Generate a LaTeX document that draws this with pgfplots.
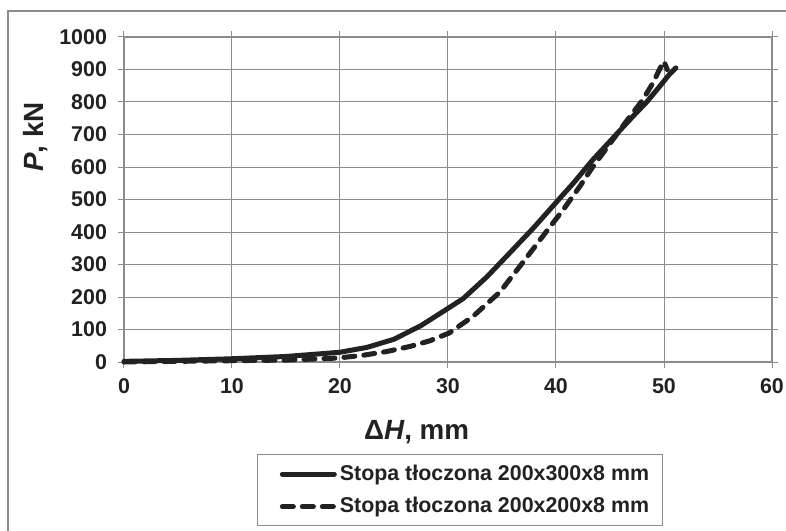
\documentclass[border=0pt]{standalone}
\usepackage{fontspec}
\setmainfont{Liberation Sans}
\usepackage{pgfplots}
\pgfplotsset{compat=1.18}
\definecolor{gridgray}{HTML}{8C8C8C}
\definecolor{curve}{HTML}{222222}
\begin{document}
\begin{tikzpicture}
\begin{axis}[
    scale only axis, width=324pt, height=162.5pt,
    at={(0,0)}, anchor=south west, clip=false,
    xmin=0, xmax=60, ymin=0, ymax=1000,
    xtick={0,10,...,60}, ytick={0,100,...,1000},
    grid=major, grid style={gridgray, line width=0.5pt},
    axis line style={gridgray, line width=0.6pt},
    tick align=outside, major tick length=3pt,
    tick style={gridgray, line width=0.5pt},
    x tick label style={font=\fontsize{10.7}{12}\selectfont\bfseries, color=curve, yshift=-1.5pt},
    y tick label style={font=\fontsize{10.7}{12}\selectfont\bfseries, color=curve, xshift=-2pt},
    /pgf/number format/assume math mode=true,
    /pgf/number format/1000 sep={},
    legend style={at={(0.5185,-0.395)}, anchor=center, draw=gridgray, line width=0.6pt,
        font=\fontsize{10.7}{12}\selectfont\bfseries, text=curve,
        inner xsep=5pt, inner ysep=3pt, row sep=3pt,
        nodes={inner xsep=1.5pt}},
    legend cell align=left,
    legend image code/.code={\path (0pt,0pt); \draw[#1, line width=2.5pt] (6pt,0pt) -- (32pt,0pt);},
]
\addplot[curve, line width=2.5pt, line cap=round, line join=round] coordinates {
 (0,2) (5,5) (10,10) (15,17) (20,30) (22.5,45) (25,70) (27.5,112) (30,165)
 (31.4,195) (33.6,262) (35.7,335) (37.9,412) (40.2,498) (41.6,550) (43.4,622)
 (45.3,690) (47.1,755) (48.4,800) (49.6,848) (50.5,885) (51.1,905)};
\addlegendentry{Stopa tłoczona 200x300x8 mm}
\addplot[curve, line width=2.5pt, line cap=round, dash pattern=on 5.5pt off 4.5pt] coordinates {
 (0,0) (5,2) (10,4) (15.1,6) (19.7,12) (22,20) (24.3,32) (26.5,48) (28.3,65)
 (30.1,89) (32.3,140) (34.8,215) (36.9,305) (38.8,388) (40.7,470) (42.2,540)
 (43.4,600) (45,672) (46.5,740) (48,805) (49,860) (49.8,915) (50,925) (50.3,900)};
\addlegendentry{Stopa tłoczona 200x200x8 mm}
\node[font=\fontsize{13.9}{16}\selectfont\bfseries, text=curve] at ([yshift=-35pt]axis cs:27.1,0) {Δ\textit{H}, mm};
\node[font=\fontsize{13.9}{16}\selectfont\bfseries, text=curve, rotate=90] at ([xshift=-44pt]axis cs:0,692) {\textit{P}, kN};
\end{axis}
\draw[gridgray, line width=0.6pt] (-58pt,-90pt) -- (-58pt,175.5pt) -- (340pt,175.5pt);
\pgfresetboundingbox
\useasboundingbox (-62pt,-84pt) rectangle (331pt,181pt);
\end{tikzpicture}
\end{document}
